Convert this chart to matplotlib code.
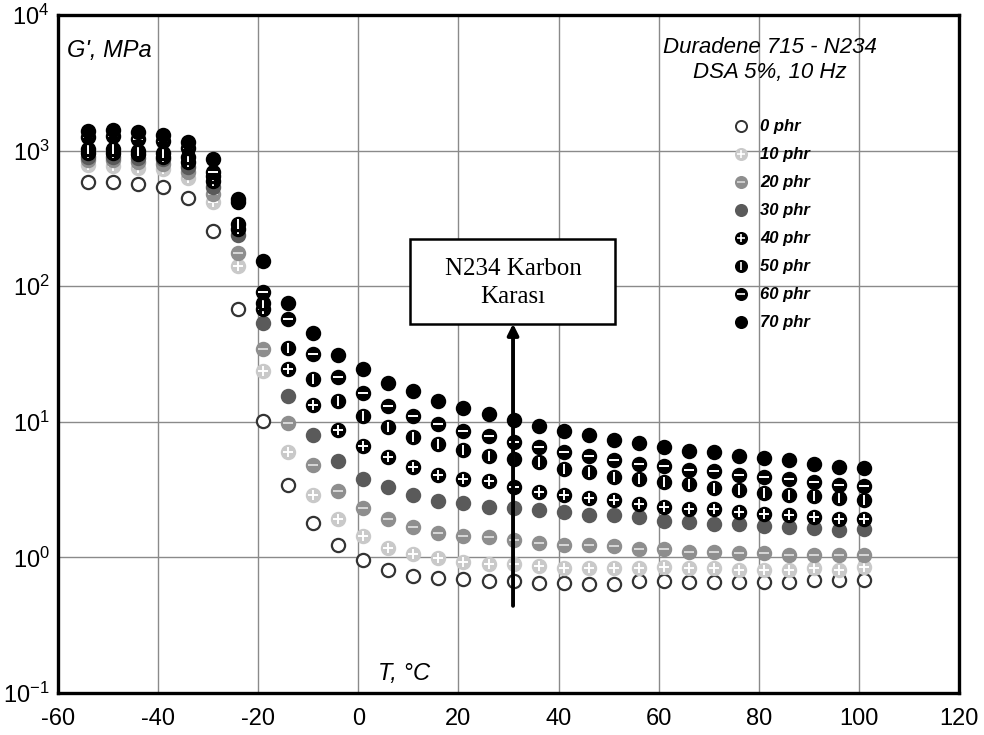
import matplotlib
matplotlib.use("Agg")
import matplotlib.pyplot as plt
from matplotlib.lines import Line2D
from matplotlib.patches import Rectangle

plt.rcParams["font.family"] = ["Liberation Sans", "DejaVu Sans"]
plt.rcParams["mathtext.fontset"] = "custom"
plt.rcParams["mathtext.rm"] = "Liberation Sans"

# temperature, degC
temps = [-54, -49, -44, -39, -34, -29, -24, -19, -14, -9, -4, 1, 6, 11, 16, 21,
         26, 31, 36, 41, 46, 51, 56, 61, 66, 71, 76, 81, 86, 91, 96, 101]

# storage modulus G', MPa, per carbon black loading
g_0 = [585, 585, 565, 540, 450, 256, 68, 10.2, 3.43, 1.80, 1.23, 0.96, 0.81, 0.73, 0.71, 0.69,
       0.67, 0.67, 0.65, 0.65, 0.64, 0.64, 0.67, 0.67, 0.66, 0.66, 0.66, 0.66, 0.66, 0.68, 0.68, 0.68]
g_10 = [780, 770, 750, 730, 630, 420, 141, 23.8, 5.96, 2.90, 1.93, 1.43, 1.17, 1.06, 0.99, 0.92,
        0.90, 0.90, 0.87, 0.83, 0.83, 0.83, 0.83, 0.85, 0.83, 0.83, 0.81, 0.81, 0.81, 0.83, 0.81, 0.85]
g_20 = [850, 850, 830, 800, 700, 480, 177, 34.4, 9.75, 4.82, 3.11, 2.32, 1.93, 1.69, 1.51, 1.45,
        1.41, 1.35, 1.27, 1.24, 1.24, 1.21, 1.16, 1.16, 1.09, 1.09, 1.08, 1.08, 1.05, 1.05, 1.05, 1.05]
g_30 = [900, 900, 880, 860, 760, 540, 240, 54, 15.6, 8.0, 5.12, 3.80, 3.29, 2.90, 2.63, 2.51,
        2.37, 2.32, 2.24, 2.16, 2.07, 2.04, 1.98, 1.87, 1.82, 1.77, 1.77, 1.72, 1.67, 1.65, 1.60, 1.61]
g_40 = [960, 960, 940, 900, 820, 600, 265, 68, 24.5, 13.4, 8.77, 6.6, 5.48, 4.68, 4.09, 3.80,
        3.65, 3.29, 3.06, 2.90, 2.73, 2.67, 2.46, 2.35, 2.28, 2.26, 2.16, 2.10, 2.04, 1.98, 1.93, 1.93]
g_50 = [1020, 1020, 990, 965, 890, 650, 290, 75, 34.8, 20.7, 14.3, 11.0, 9.11, 7.69, 6.87, 6.21,
        5.64, 5.33, 5.09, 4.50, 4.25, 3.90, 3.80, 3.59, 3.49, 3.26, 3.17, 2.99, 2.91, 2.86, 2.75, 2.67]
g_60 = [1270, 1280, 1210, 1170, 1050, 700, 420, 90, 57.3, 31.6, 21.5, 16.2, 13.0, 11.1, 9.65, 8.51,
        7.82, 7.06, 6.49, 6.04, 5.64, 5.27, 4.90, 4.70, 4.43, 4.32, 4.06, 3.90, 3.80, 3.59, 3.45, 3.39]
g_70 = [1400, 1420, 1380, 1300, 1150, 870, 440, 154, 74.6, 44.9, 31.3, 24.5, 19.3, 16.8, 14.2, 12.6,
        11.4, 10.3, 9.38, 8.51, 8.0, 7.39, 7.0, 6.49, 6.14, 5.96, 5.57, 5.42, 5.24, 4.90, 4.68, 4.58]

labels = ["0 phr", "10 phr", "20 phr", "30 phr", "40 phr", "50 phr", "60 phr", "70 phr"]
series = [g_0, g_10, g_20, g_30, g_40, g_50, g_60, g_70]

# (face, edge, inner mark, inner colour)
styles = [
    ("white", "#333333", None, None),
    ("#c9c9c9", "#c9c9c9", "+", "white"),
    ("#8e8e8e", "#8e8e8e", "_", "#d8d8d8"),
    ("#5a5a5a", "#5a5a5a", None, None),
    ("black", "black", "+", "white"),
    ("black", "black", "|", "white"),
    ("black", "black", "_", "white"),
    ("black", "black", None, None),
]

fig, ax = plt.subplots(figsize=(9.84, 7.35), dpi=100)
fig.subplots_adjust(left=0.059, right=0.9746, bottom=0.057, top=0.9796)

handles = []
for i, (ys, lab, (fc, ec, inner, ic)) in enumerate(zip(series, labels, styles)):
    ax.plot(temps, ys, ls="none", marker="o", ms=9.5, mfc=fc, mec=ec, mew=1.6,
            zorder=3 + i)
    h = [Line2D([], [], ls="none", marker="o", ms=8, mfc=fc, mec=ec, mew=1.4)]
    if inner:
        ax.plot(temps, ys, ls="none", marker=inner, ms=7, mec=ic, mew=1.4,
                zorder=3 + i)
        h.append(Line2D([], [], ls="none", marker=inner, ms=6, mec=ic, mew=1.2))
    handles.append(tuple(h))

ax.set_yscale("log")
ax.set_xlim(-60, 120)
ax.set_ylim(0.1, 1e4)
ax.set_xticks(range(-60, 121, 20))
ax.set_xticklabels([str(t) for t in range(-60, 121, 20)])
ax.set_yticks([0.1, 1, 10, 100, 1000, 10000])
ax.set_yticklabels([r"$\mathregular{10^{-1}}$", r"$\mathregular{10^{0}}$",
                    r"$\mathregular{10^{1}}$", r"$\mathregular{10^{2}}$",
                    r"$\mathregular{10^{3}}$", r"$\mathregular{10^{4}}$"])
ax.minorticks_off()
ax.tick_params(length=0, labelsize=17, pad=6)
ax.tick_params(axis="x", pad=11)
ax.grid(True, color="#8a8a8a", lw=1.0)
ax.set_axisbelow(True)
for s in ax.spines.values():
    s.set_linewidth(2.4)

ax.text(0.01, 0.965, "G', MPa", transform=ax.transAxes, fontsize=17,
        style="italic", va="top", ha="left")
ax.text(0.384, 0.012, "T, °C", transform=ax.transAxes, fontsize=17,
        style="italic", va="bottom", ha="center")
ax.text(0.79, 0.968, "Duradene 715 - N234\nDSA 5%, 10 Hz", transform=ax.transAxes,
        fontsize=16, style="italic", va="top", ha="center", linespacing=1.25)

ax.legend(handles, labels, loc="upper left", bbox_to_anchor=(0.749, 0.846),
          frameon=False, borderpad=0, borderaxespad=0, handlelength=1.0,
          handletextpad=0.65, labelspacing=0.78,
          prop={"size": 12, "style": "italic", "weight": "bold"})

# annotation box with arrow
ax.add_patch(Rectangle((10.4, 52.9), 40.9, 170, fc="white", ec="black", lw=1.8,
                       zorder=10))
ax.text(30.9, 106, "N234 Karbon\nKarası", ha="center", va="center", fontsize=18,
        family=["Liberation Serif", "DejaVu Serif"], linespacing=1.35, zorder=11)
ax.annotate("", xy=(30.9, 52.9), xytext=(30.9, 0.44),
            arrowprops=dict(arrowstyle="-|>", lw=2.8, color="black",
                            mutation_scale=16, shrinkA=0, shrinkB=0), zorder=12)

fig.savefig("out.png", dpi=100)
